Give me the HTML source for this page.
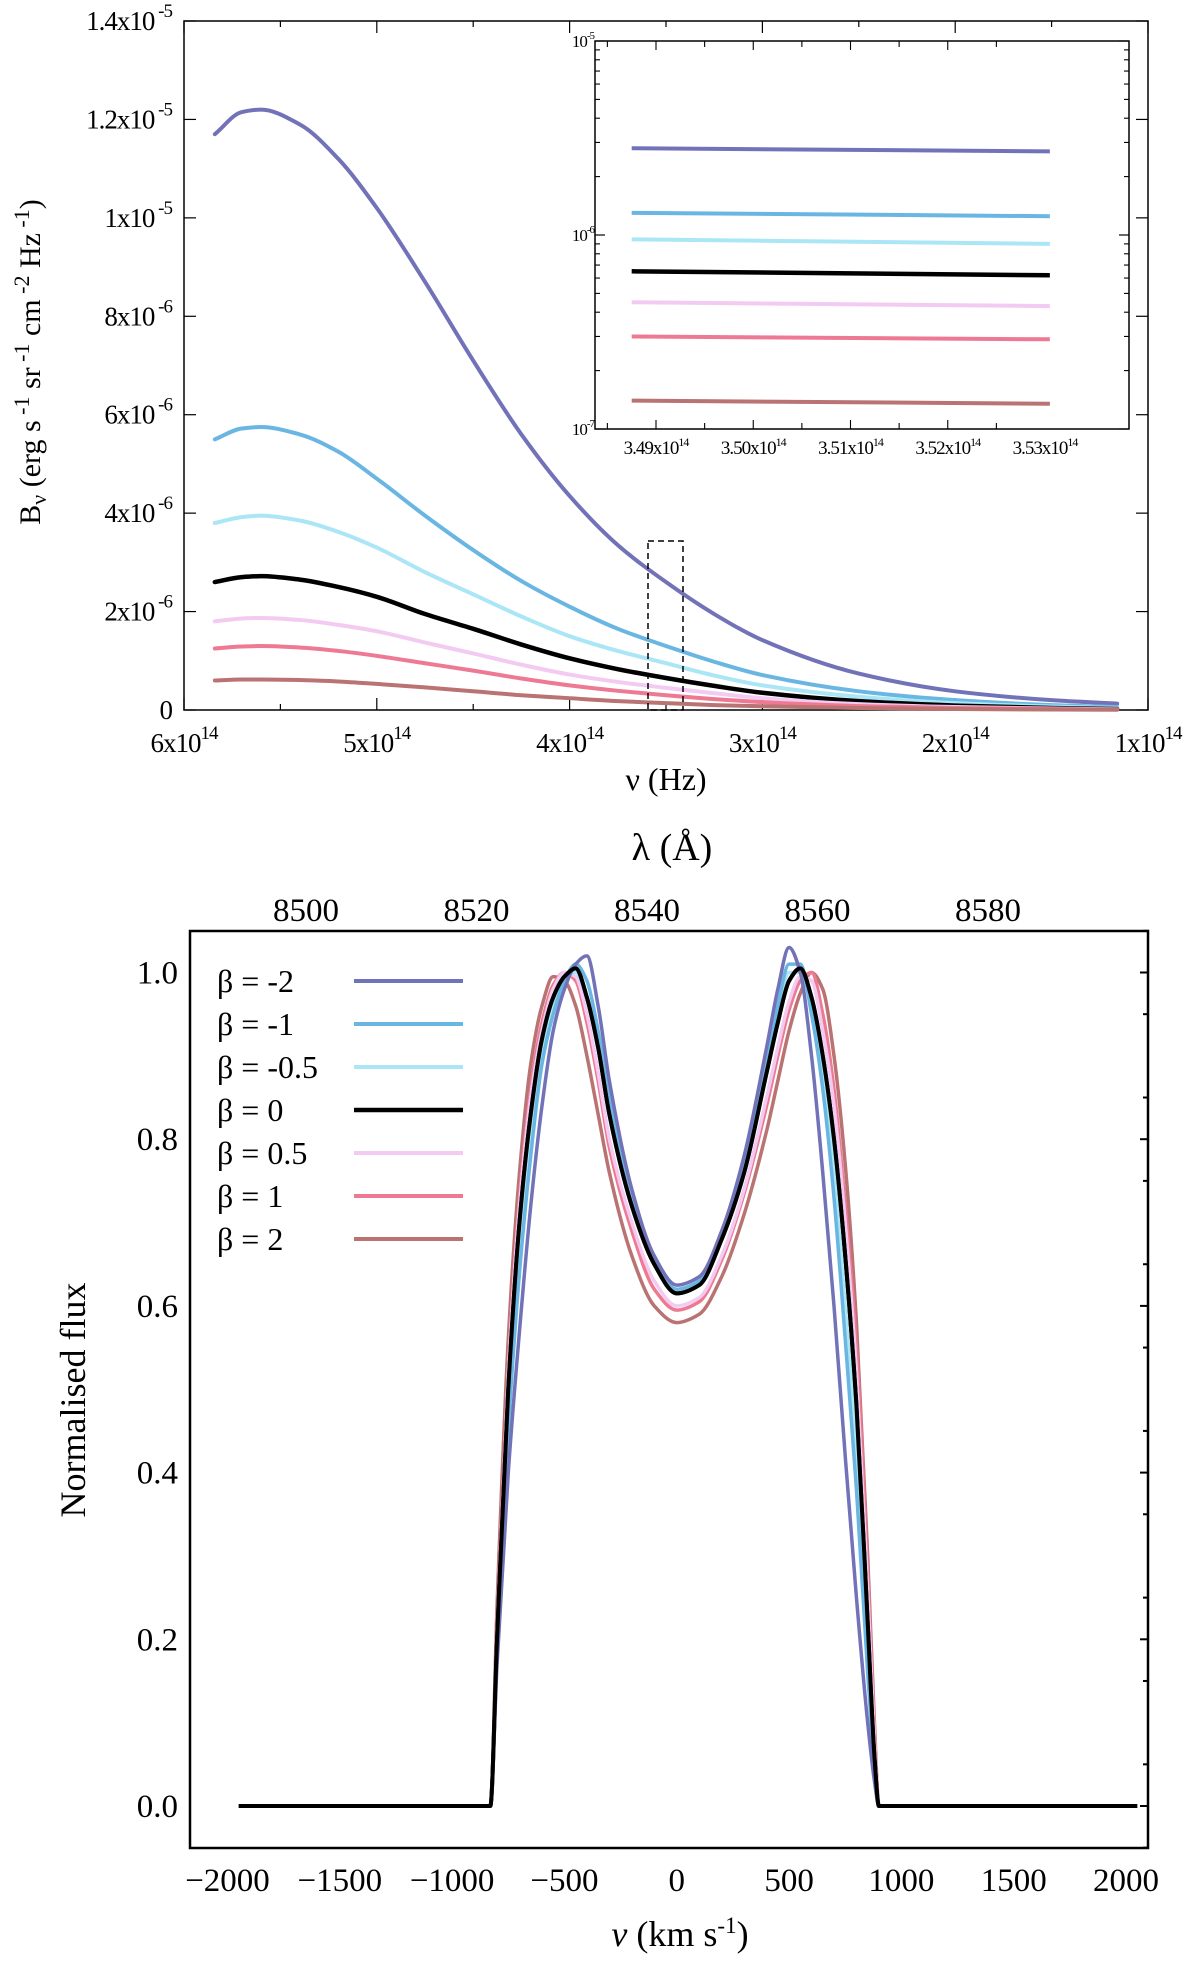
<!DOCTYPE html>
<html><head><meta charset="utf-8">
<style>
body{margin:0;background:#fff;}
svg{display:block;font-family:"Liberation Serif",serif;}
</style></head>
<body>
<svg id="fig" width="1200" height="1963" viewBox="0 0 1200 1963" xmlns="http://www.w3.org/2000/svg">
<g id="top"></g>
<g id="inset"></g>
<g id="bot"></g>
</svg>
<script>
// ---------- data ----------
const seriesNames = ["β = -2","β = -1","β = -0.5","β = 0","β = 0.5","β = 1","β = 2"];
const seriesColors = ["#7272b9","#6ab6e2","#aae6f6","#000000","#f3caf1","#ed7a92","#b97372"];
// top chart: frequency grid (1e14 Hz), values in 1e-6
const nuGrid = [5.84,5.7,5.6,5.4,5.2,5.0,4.75,4.5,4.25,4.0,3.75,3.5,3.25,3.0,2.5,2.0,1.5,1.16];
const bViolet = [11.7,12.15,12.2,11.9,11.2,10.2,8.7,7.1,5.6,4.35,3.35,2.6,1.95,1.42,0.74,0.38,0.2,0.13];
const bBlue = [5.5,5.72,5.75,5.6,5.25,4.7,3.95,3.25,2.62,2.1,1.65,1.3,0.98,0.71,0.38,0.2,0.1,0.06];
const bLightBlue = [3.8,3.92,3.95,3.85,3.62,3.3,2.8,2.35,1.9,1.5,1.2,0.95,0.7,0.5,0.27,0.14,0.07,0.04];
const bBlack = [2.6,2.7,2.72,2.65,2.5,2.3,1.95,1.65,1.33,1.05,0.83,0.65,0.49,0.35,0.18,0.09,0.04,0.02];
const bPink = [1.8,1.86,1.87,1.83,1.73,1.6,1.37,1.15,0.92,0.72,0.57,0.45,0.34,0.24,0.12,0.06,0.03,0.015];
const bRed = [1.25,1.29,1.3,1.27,1.2,1.1,0.95,0.8,0.64,0.5,0.39,0.3,0.22,0.16,0.08,0.04,0.02,0.01];
const bBrown = [0.6,0.62,0.62,0.61,0.58,0.53,0.46,0.38,0.3,0.24,0.18,0.14,0.1,0.075,0.04,0.02,0.01,0.005];
const topSeries = [bViolet,bBlue,bLightBlue,bBlack,bPink,bRed,bBrown];
const topXTicks = [6,5,4,3,2,1];
const topYTicks = [0,2,4,6,8,10,12,14];
const topYLabels = ["0","2x10","4x10","6x10","8x10","1x10","1.2x10","1.4x10"];
const topYExp = ["","-6","-6","-6","-6","-5","-5","-5"];
// inset: start/end frequency, values (1e-6)
const insetNu = [3.4875,3.5305];
const insetStart = [2.8,1.3,0.95,0.65,0.45,0.3,0.14];
const insetEnd = [2.7,1.25,0.9,0.62,0.43,0.29,0.135];
const insetXTicks = [3.49,3.50,3.51,3.52,3.53];
// bottom chart
const vGrid = [-1950,-830,-800,-750,-700,-650,-600,-550,-500,-450,-400,-350,-300,-200,-100,0,100,200,300,400,450,500,550,600,650,700,750,800,850,880,900,2050];
const fViolet = [0,0,0.17,0.4,0.57,0.72,0.84,0.93,0.98,1.01,1.02,0.96,0.87,0.74,0.66,0.625,0.635,0.69,0.78,0.91,0.98,1.03,1.0,0.9,0.76,0.6,0.42,0.25,0.1,0.03,0,0];
const fBlue = [0,0,0.18,0.45,0.64,0.78,0.89,0.95,0.99,1.01,0.99,0.93,0.85,0.73,0.655,0.62,0.63,0.685,0.77,0.89,0.96,1.01,1.01,0.95,0.86,0.73,0.56,0.38,0.16,0.05,0,0];
const fLightBlue = [0,0,0.19,0.48,0.67,0.8,0.9,0.96,0.99,1.0,0.97,0.92,0.84,0.72,0.65,0.615,0.625,0.68,0.765,0.88,0.95,1.0,1.0,0.96,0.88,0.76,0.6,0.42,0.18,0.05,0,0];
const fBlack = [0,0,0.2,0.5,0.7,0.83,0.92,0.97,0.995,1.005,0.97,0.91,0.83,0.72,0.65,0.615,0.625,0.68,0.76,0.88,0.94,0.99,1.005,0.97,0.9,0.8,0.66,0.48,0.22,0.06,0,0];
const fPink = [0,0,0.21,0.52,0.72,0.85,0.93,0.98,1.0,0.995,0.95,0.88,0.8,0.7,0.63,0.6,0.61,0.66,0.74,0.85,0.91,0.965,0.995,0.99,0.93,0.84,0.7,0.52,0.26,0.08,0,0];
const fRed = [0,0,0.22,0.53,0.73,0.86,0.94,0.985,1.0,0.99,0.94,0.87,0.79,0.69,0.62,0.595,0.605,0.655,0.735,0.84,0.9,0.955,0.99,1.0,0.95,0.86,0.72,0.55,0.28,0.09,0,0];
const fBrown = [0,0,0.24,0.56,0.76,0.89,0.96,0.995,0.99,0.96,0.9,0.83,0.76,0.66,0.6,0.58,0.59,0.635,0.71,0.81,0.87,0.93,0.975,1.0,0.98,0.9,0.77,0.58,0.3,0.1,0,0];
const botSeries = [fViolet,fBlue,fLightBlue,fBlack,fPink,fRed,fBrown];
const botXTicks = [-2000,-1500,-1000,-500,0,500,1000,1500,2000];
const botXLabels = ["−2000","−1500","−1000","−500","0","500","1000","1500","2000"];
const botYTicks = [0,0.2,0.4,0.6,0.8,1.0];
const lamTicks = [8500,8520,8540,8560,8580];

// ---------- helpers ----------
const NS="http://www.w3.org/2000/svg";
function mk(parent,tag,attrs,text){const e=document.createElementNS(NS,tag);for(const k in attrs)e.setAttribute(k,attrs[k]);if(text!==undefined)e.textContent=text;parent.appendChild(e);return e;}
// monotone cubic (Fritsch-Carlson) along x
function smooth(pts){
  const p=pts.slice().sort((a,b)=>a[0]-b[0]);const n=p.length;
  const d=[],m=[];
  for(let i=0;i<n-1;i++)d.push((p[i+1][1]-p[i][1])/(p[i+1][0]-p[i][0]));
  m[0]=d[0];m[n-1]=d[n-2];
  for(let i=1;i<n-1;i++){ if(d[i-1]*d[i]<=0)m[i]=0; else {const h0=p[i][0]-p[i-1][0],h1=p[i+1][0]-p[i][0];const w1=2*h1+h0,w2=h1+2*h0;m[i]=(w1+w2)/(w1/d[i-1]+w2/d[i]);} }
  let s=`M${p[0][0]},${p[0][1]}`;
  for(let i=0;i<n-1;i++){const h=p[i+1][0]-p[i][0];s+=` C${p[i][0]+h/3},${p[i][1]+m[i]*h/3} ${p[i+1][0]-h/3},${p[i+1][1]-m[i+1]*h/3} ${p[i+1][0]},${p[i+1][1]}`;}
  return s;
}

// ---------- top chart ----------
const T=document.getElementById('top');
const tL=184,tR=1148,tT=21,tB=710;
const tx=n=>tL+(6-n)/5*(tR-tL);
const ty=v=>tB-v/14*(tB-tT);
let e=mk(T,'rect',{x:tL,y:tT,width:tR-tL,height:tB-tT,fill:'none',stroke:'#000','stroke-width':1.5});

for(let n=6;n>=1;n-=0.5){const x=tx(n),L=(n%1===0)?12:6;mk(T,'line',{x1:x,y1:tB,x2:x,y2:tB-L,stroke:'#000','stroke-width':1.2});mk(T,'line',{x1:x,y1:tT,x2:x,y2:tT+L,stroke:'#000','stroke-width':1.2});}
topYTicks.forEach((v,i)=>{const y=ty(v);mk(T,'line',{x1:tL,y1:y,x2:tL+12,y2:y,stroke:'#000','stroke-width':1.2});mk(T,'line',{x1:tR,y1:y,x2:tR-12,y2:y,stroke:'#000','stroke-width':1.2});
 const t=mk(T,'text',{x:tL-12,y:y+9,'text-anchor':'end','font-size':27,'letter-spacing':-1});
 t.appendChild(document.createTextNode(topYLabels[i]));if(topYExp[i]){mk(t,'tspan',{dy:-13,'font-size':19},' '+topYExp[i]);}
});
topXTicks.forEach(n=>{const t=mk(T,'text',{x:tx(n),y:tB+42,'text-anchor':'middle','font-size':27,'letter-spacing':-1},'');
 t.appendChild(document.createTextNode(n+'x10'));mk(t,'tspan',{dy:-13,'font-size':19},'14');});
e=mk(T,'text',{x:666,y:790,'text-anchor':'middle','font-size':32},'ν (Hz)');
e=mk(T,'text',{x:0,y:0,'text-anchor':'middle','font-size':30,transform:'translate(40,362) rotate(-90)'},'');
e.appendChild(document.createTextNode('B'));mk(e,'tspan',{dy:6,'font-size':22},'ν');mk(e,'tspan',{dy:-6},' (erg s');mk(e,'tspan',{dy:-11,'font-size':22},' -1');mk(e,'tspan',{dy:11},' sr');mk(e,'tspan',{dy:-11,'font-size':22},' -1');mk(e,'tspan',{dy:11},' cm');mk(e,'tspan',{dy:-11,'font-size':22},' -2');mk(e,'tspan',{dy:11},' Hz');mk(e,'tspan',{dy:-11,'font-size':22},' -1');mk(e,'tspan',{dy:11},')');
topSeries.forEach((arr,i)=>{const pts=nuGrid.map((n,j)=>[tx(n),ty(arr[j])]);const p=mk(T,'path',{d:smooth(pts),fill:'none',stroke:seriesColors[i],'stroke-width':i===3?4.5:4,'stroke-linecap':'round'});
 });
e=mk(T,'rect',{x:648,y:541,width:35,height:169,fill:'none',stroke:'#000','stroke-width':1.5,'stroke-dasharray':'6,4'});

// ---------- inset ----------
const I=document.getElementById('inset');
const iL=595,iR=1129,iT=41,iB=429;
const ix=n=>656+(n-3.49)/0.04*(1045-656);
const iy=v=>iB-(Math.log10(v*1e-6)+7)/2*(iB-iT);
e=mk(I,'rect',{x:iL,y:iT,width:iR-iL,height:iB-iT,fill:'#fff',stroke:'#000','stroke-width':1.5});
for(let k=0;k<=8;k++){const n=3.49+k*0.005-0.005;const x=ix(n);if(x<iL+3||x>iR-3)continue;const L=(k%2===1)?9:6;mk(I,'line',{x1:x,y1:iB,x2:x,y2:iB-L,stroke:'#000','stroke-width':1.1});mk(I,'line',{x1:x,y1:iT,x2:x,y2:iT+L,stroke:'#000','stroke-width':1.1});}
for(let d=-7;d<-5;d++){for(let m=1;m<=10;m++){const y=iy(m*Math.pow(10,d)*1e6);const L=(m===1||m===10)?10:5;mk(I,'line',{x1:iL,y1:y,x2:iL+L,y2:y,stroke:'#000','stroke-width':1.1});mk(I,'line',{x1:iR,y1:y,x2:iR-L,y2:y,stroke:'#000','stroke-width':1.1});}}
[-5,-6,-7].forEach(d=>{const t=mk(I,'text',{x:iL-1,y:iy(Math.pow(10,d)*1e6)+6,'text-anchor':'end','font-size':17,'letter-spacing':-1},'10');mk(t,'tspan',{dy:-8,'font-size':11},String(d));});
insetXTicks.forEach(n=>{const t=mk(I,'text',{x:ix(n),y:iB+25,'text-anchor':'middle','font-size':19,'letter-spacing':-1},n.toFixed(2)+'x10');mk(t,'tspan',{dy:-8,'font-size':12},'14');});
insetStart.forEach((v,i)=>{const l=mk(I,'line',{x1:ix(insetNu[0]),y1:iy(v),x2:ix(insetNu[1]),y2:iy(insetEnd[i]),stroke:seriesColors[i],'stroke-width':i===3?4.5:4});
 });

// ---------- bottom chart ----------
const B=document.getElementById('bot');
const bL=190,bR=1148,bT=931,bB=1848;
const bx=v=>227.5+(v+2000)/4000*(1126-227.5);
const by=f=>1806-f*(1806-972.5);
const lx=l=>306+(l-8500)/80*(988-306);
e=mk(B,'rect',{x:bL,y:bT,width:bR-bL,height:bB-bT,fill:'none',stroke:'#000','stroke-width':2.5});
for(let f=-0.05;f<=1.05;f+=0.1){const y=by(f);mk(B,'line',{x1:bR,y1:y,x2:bR-5,y2:y,stroke:'#000','stroke-width':2});}
botYTicks.forEach(f=>{const y=by(f);mk(B,'line',{x1:bR,y1:y,x2:bR-8,y2:y,stroke:'#000','stroke-width':2});
 const t=mk(B,'text',{x:178,y:y+11,'text-anchor':'end','font-size':33},f.toFixed(1));});
botXTicks.forEach((v,i)=>{const t=mk(B,'text',{x:bx(v),y:1891,'text-anchor':'middle','font-size':33},botXLabels[i]);});
lamTicks.forEach(l=>{const t=mk(B,'text',{x:lx(l),y:921,'text-anchor':'middle','font-size':33},String(l));});
e=mk(B,'text',{x:672,y:860,'text-anchor':'middle','font-size':38},'λ (Å)');
e=mk(B,'text',{x:0,y:0,'text-anchor':'middle','font-size':36,transform:'translate(85,1400) rotate(-90)'},'Normalised flux');
e=mk(B,'text',{x:680,y:1946,'text-anchor':'middle','font-size':36},'');
mk(e,'tspan',{'font-style':'italic'},'v');mk(e,'tspan',{},' (km s');mk(e,'tspan',{dy:-13,'font-size':23},'-1');mk(e,'tspan',{dy:13},')');
botSeries.slice().reverse().forEach((arr,ri)=>{const i=6-ri;const pts=vGrid.map((v,j)=>[bx(v),by(arr[j])]);
 const p=mk(B,'path',{d:smooth(pts),fill:'none',stroke:seriesColors[i],'stroke-width':i===3?4:3.5,'stroke-linejoin':'round'});
 });
{const pts=vGrid.map((v,j)=>[bx(v),by(fBlack[j])]);const p=mk(B,'path',{d:smooth(pts),fill:'none',stroke:'#000','stroke-width':4});}
seriesNames.forEach((n,i)=>{const y=981+i*43;const g=mk(B,'g',{});
 mk(g,'text',{x:217,y:y+11,'font-size':32},n);mk(g,'line',{x1:354,y1:y,x2:463,y2:y,stroke:seriesColors[i],'stroke-width':i===3?4.5:4});});
</script>
</body></html>
